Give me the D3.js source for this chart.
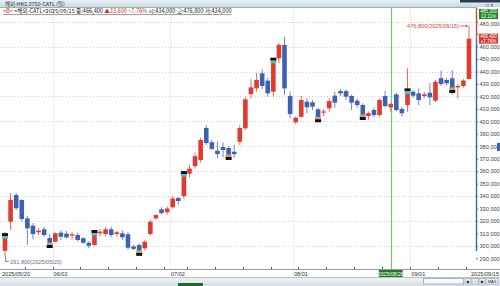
<!DOCTYPE html>
<html>
<head>
<meta charset="utf-8">
<script src="https://cdn.jsdelivr.net/npm/d3@7"></script>
<style>
  body { margin: 0; background: #fff; }
  svg { display: block; }
</style>
</head>
<body>
<div id="chart"></div>
<script>
// Trading days shown (HK, 2025)
const dates = [
  "2025/05/20","2025/05/21","2025/05/22","2025/05/23","2025/05/26","2025/05/27","2025/05/28","2025/05/29","2025/05/30",
  "2025/06/02","2025/06/03","2025/06/04","2025/06/05","2025/06/06","2025/06/09","2025/06/10","2025/06/11","2025/06/12","2025/06/13",
  "2025/06/16","2025/06/17","2025/06/18","2025/06/19","2025/06/20","2025/06/23","2025/06/24","2025/06/25","2025/06/26","2025/06/27","2025/06/30",
  "2025/07/02","2025/07/03","2025/07/04","2025/07/07","2025/07/08","2025/07/09","2025/07/10","2025/07/11","2025/07/14","2025/07/15",
  "2025/07/16","2025/07/17","2025/07/18","2025/07/21","2025/07/22","2025/07/23","2025/07/24","2025/07/25","2025/07/28","2025/07/29","2025/07/30","2025/07/31",
  "2025/08/01","2025/08/04","2025/08/05","2025/08/06","2025/08/07","2025/08/08","2025/08/11","2025/08/12","2025/08/13","2025/08/14","2025/08/15",
  "2025/08/18","2025/08/19","2025/08/20","2025/08/21","2025/08/22","2025/08/25","2025/08/26","2025/08/27","2025/08/28","2025/08/29",
  "2025/09/01","2025/09/02","2025/09/03","2025/09/04","2025/09/05","2025/09/08","2025/09/09","2025/09/10","2025/09/11","2025/09/12","2025/09/15"
];

const opens = [
  296000,319400,340800,336800,322100,316200,310900,313300,306300,
  303300,310600,309800,308200,308700,306100,302500,300700,310100,309500,
  313300,309500,310100,309300,299500,300700,298000,309500,322100,329300,327000,
  331000,338500,340000,358000,364000,369000,394700,383200,376400,379400,
  378600,375600,383600,394400,421900,426500,438600,432700,423800,450600,461400,420400,
  399200,403700,415800,415300,409700,407000,410500,420600,424300,424300,420400,
  416600,413100,404300,409100,405100,420400,411300,421700,410000,413100,
  423800,422500,420400,423000,416600,434600,433200,434600,427300,428400,434000
];
const highs = [
  311400,342400,342700,337400,324000,318400,314300,315100,309500,
  310900,312700,312000,311000,310500,307000,303800,311100,313500,315000,
  315400,312000,312500,311000,301000,302000,304500,321000,325500,331000,331500,
  340000,339000,358000,365000,375000,387000,397000,385000,383700,383000,
  380000,381000,397100,419800,433800,439100,441800,434800,449000,463000,468000,424000,
  404000,420400,418500,417200,411000,410000,418500,423800,426000,425500,421500,
  418000,414500,408000,411000,418500,424400,415000,423000,411500,442600,
  425000,426500,423800,430600,433200,440700,435000,441200,430000,434000,476800
];
const lows = [
  291800,312700,328800,319400,300700,305300,308700,307100,300700,
  302500,304700,306000,305000,303500,301500,298000,300000,307500,307600,
  307000,307600,304700,297000,296500,295100,296500,308000,321000,325000,325000,
  330000,333000,338000,355000,362000,367000,381000,377000,370300,371000,
  372000,370800,381000,393000,418500,423800,426000,419800,419800,446600,421200,402400,
  397500,402700,406500,409100,400000,404300,407700,411000,420400,417200,409100,
  411000,403000,401100,403500,404000,411000,407700,408000,403700,407700,
  419000,413100,418500,413100,415500,428500,429000,421200,418500,427000,434000
];
const closes = [
  306200,336800,330200,321600,314100,309500,312200,308700,302300,
  310100,307300,306800,309300,304700,302500,300100,308700,311400,313300,
  308700,310900,306900,298500,297600,296000,303300,319400,324700,326300,330000,
  338000,336000,356000,362000,372000,385000,382600,377900,373700,377000,
  373000,373700,394600,417700,427300,433200,428400,422500,447100,461400,426500,405900,
  402900,417200,411300,411800,403300,408000,416300,415000,422500,419800,415000,
  413100,405100,406500,405100,417200,412300,413900,409100,406500,422500,
  420600,417200,421700,419300,431800,430000,430600,426800,428400,432800,466400
];

// candles carrying the signal box (every 8th bar)
const markIdx = [0, 8, 16, 24, 32, 40, 48, 56, 64, 72, 80];

const yTicks = [290000,300000,310000,320000,330000,340000,350000,360000,370000,380000,
                390000,400000,410000,420000,430000,440000,450000,460000,470000,480000];
const gridTicks = [300000,320000,340000,360000,380000,400000,420000,440000,460000,480000];
const monthStarts = ["2025/06/02","2025/07/02","2025/08/01","2025/09/01"];
const monthLabels = ["06/02","07/02","08/01","09/01"];
const weekStarts = ["2025/05/26","2025/06/02","2025/06/09","2025/06/16","2025/06/23","2025/06/30",
  "2025/07/07","2025/07/14","2025/07/21","2025/07/28","2025/08/04","2025/08/11","2025/08/18",
  "2025/08/25","2025/09/01","2025/09/08","2025/09/15"];
const crossDate = "2025/08/26";

const titleText = "해외-HKS 3750-CATL (일)";
const infoParts = [
  { t: "<B> ", c: "#d0342c" },
  { t: "<해외-CATL>2025/09/15 종:466,400 ", c: "#222" },
  { t: "▲33,600 +7.76% ", c: "#d0342c" },
  { t: "시:434,000 고:476,800 저:434,000", c: "#222" }
];
const lastClose = 466400, lastPct = "+7.76%";
const crossPrice = 485200, crossPct = "12.11%";
const hiNote = "476,800(2025/09/15)", loNote = "291,800(2025/05/20)";

const UP = "#e23b2e", DOWN = "#3d62b2";
const plotRight = 476, plotTop = 7.5, axisY = 269;

const svg = d3.select("#chart").append("svg")
    .attr("width", 500).attr("height", 286)
    .style("font-family", "'Liberation Sans Narrow','Liberation Sans','Noto Sans CJK KR',sans-serif");

const defs = svg.append("defs");
const tg = defs.append("linearGradient").attr("id", "tb").attr("x1", 0).attr("x2", 0).attr("y1", 0).attr("y2", 1);
tg.append("stop").attr("offset", 0).attr("stop-color", "#eaf1f8");
tg.append("stop").attr("offset", 1).attr("stop-color", "#c8d7e8");
const sg = defs.append("linearGradient").attr("id", "sb").attr("x1", 0).attr("x2", 0).attr("y1", 0).attr("y2", 1);
sg.append("stop").attr("offset", 0).attr("stop-color", "#f2f4f6");
sg.append("stop").attr("offset", 1).attr("stop-color", "#d9dee4");

// Scales
const x = d3.scalePoint().domain(dates).range([5, 469]);
const step = x.step();
const bw = 4.6;
const y = d3.scaleLinear().domain([290000, 480000]).range([258.3, 21.75]);

// Gridlines
const grid = svg.append("g");
grid.selectAll(".hg").data(gridTicks).enter().append("line")
    .attr("x1", 0).attr("x2", plotRight)
    .attr("y1", d => Math.round(y(d)) + 0.5).attr("y2", d => Math.round(y(d)) + 0.5)
    .attr("stroke", "#cfcfcf").attr("stroke-dasharray", "1,2");
grid.selectAll(".vg").data(monthStarts).enter().append("line")
    .attr("x1", d => Math.round(x(d) - step / 2) + 0.5).attr("x2", d => Math.round(x(d) - step / 2) + 0.5)
    .attr("y1", plotTop).attr("y2", axisY)
    .attr("stroke", "#cfcfcf").attr("stroke-dasharray", "1,2");

// Top border and crosshair
svg.append("line").attr("x1", 0).attr("x2", plotRight).attr("y1", plotTop).attr("y2", plotTop)
    .attr("stroke", "#8fc28c");
svg.append("line").attr("x1", Math.round(x(crossDate)) + 0.5).attr("x2", Math.round(x(crossDate)) + 0.5)
    .attr("y1", plotTop).attr("y2", axisY).attr("stroke", "#7dbf7b").attr("stroke-width", 1.2);

// Candles
const candles = dates.map((d, i) => ({ d, i, o: opens[i], h: highs[i], l: lows[i], c: closes[i] }));
const cg = svg.append("g").selectAll("g").data(candles).enter().append("g");
cg.append("line")
    .attr("x1", d => x(d.d)).attr("x2", d => x(d.d))
    .attr("y1", d => y(d.h)).attr("y2", d => y(d.l))
    .attr("stroke", d => d.c >= d.o ? UP : DOWN).attr("stroke-width", 1).attr("opacity", 0.75);
cg.append("rect")
    .attr("x", d => x(d.d) - bw / 2).attr("width", bw)
    .attr("y", d => y(Math.max(d.o, d.c)))
    .attr("height", d => Math.max(1, Math.abs(y(d.o) - y(d.c))))
    .attr("fill", d => d.c >= d.o ? UP : DOWN);

// Signal boxes
const mk = svg.append("g").selectAll("g").data(markIdx.map(i => candles[i])).enter().append("g");
mk.each(function (d) {
  const g = d3.select(this), up = d.c >= d.o, cx = x(d.d);
  if (up) {
    const top = y(d.c);
    g.append("rect").attr("x", cx - 3).attr("width", 6).attr("y", top - 5).attr("height", 3).attr("fill", "#111");
    g.append("rect").attr("x", cx - 3).attr("width", 6).attr("y", top - 2).attr("height", 2.5).attr("fill", "#3fc6cf");
  } else {
    const bot = y(d.c);
    g.append("rect").attr("x", cx - 3).attr("width", 6).attr("y", bot - 0.5).attr("height", 2.5).attr("fill", "#c9a46c");
    g.append("rect").attr("x", cx - 3).attr("width", 6).attr("y", bot + 2).attr("height", 3).attr("fill", "#111");
  }
});

// High / low notes
const last = candles[candles.length - 1], first = candles[0];
svg.append("text").attr("x", x(last.d) - 10).attr("y", 28).attr("text-anchor", "end")
    .attr("fill", "#d0463c").attr("font-size", 5.6).text(hiNote);
svg.append("path")
    .attr("d", `M${x(last.d) - 9},${26} H${x(last.d) - 1.5}`)
    .attr("stroke", "#d0463c").attr("stroke-width", 0.8).attr("fill", "none");
svg.append("path")
    .attr("d", `M${x(last.d) - 1},26 l-2.2,-1.3 v2.6 z`).attr("fill", "#d0463c");
svg.append("path")
    .attr("d", `M${x(first.d) + 0.5},${y(first.l)} V261.5 H${x(first.d) + 4}`)
    .attr("stroke", "#5b6f9a").attr("stroke-width", 0.8).attr("fill", "none");
svg.append("text").attr("x", x(first.d) + 5).attr("y", 263.5)
    .attr("fill", "#5b6f9a").attr("font-size", 5.6).text(loNote);

// Price tags sit on the axis and hide what is behind them
const tagBoxes = [
  { yc: 14, fill: "#1f8a24", l1: d3.format(",")(crossPrice), l2: crossPct },
  { yc: y(lastClose), fill: "#d8392d", l1: d3.format(",")(lastClose), l2: lastPct }
];

// Right price axis
const ya = svg.append("g").attr("transform", `translate(${plotRight},0)`)
    .call(d3.axisRight(y).tickValues(yTicks).tickFormat(d3.format(",")).tickSize(2).tickPadding(1.5));
ya.select(".domain").remove();
ya.selectAll(".tick line").attr("stroke", "#666");
ya.selectAll(".tick text").attr("fill", "#444").attr("font-size", 5.6)
    .style("font-family", "'Liberation Sans Narrow','Liberation Sans',sans-serif");
// labels covered by a tag are not shown
ya.selectAll(".tick").filter(d => tagBoxes.some(t => Math.abs(y(d) - t.yc) < 6))
    .select("text").remove();
ya.selectAll(".tick").filter(d => d === 480000).select("text").attr("dy", "0.62em");

svg.append("line").attr("x1", plotRight + 0.5).attr("x2", plotRight + 0.5)
    .attr("y1", plotTop).attr("y2", y(lastClose)).attr("stroke", "#d8453a").attr("stroke-width", 1.4);
svg.append("line").attr("x1", plotRight + 0.5).attr("x2", plotRight + 0.5)
    .attr("y1", y(lastClose)).attr("y2", y(d3.min(lows)) - 5).attr("stroke", "#3d62b2").attr("stroke-width", 1.4);
svg.append("rect").attr("x", 497).attr("y", 143).attr("width", 3).attr("height", 8).attr("fill", "#3d62b2");

tagBoxes.forEach(t => {
  const g = svg.append("g");
  g.append("rect").attr("x", 479).attr("y", t.yc - 5).attr("width", 19).attr("height", 10).attr("fill", t.fill);
  g.append("text").attr("x", 488.5).attr("y", t.yc - 0.8).attr("text-anchor", "middle")
      .attr("fill", "#fff").attr("font-size", 4.6).text(t.l1);
  g.append("text").attr("x", 488.5).attr("y", t.yc + 4.1).attr("text-anchor", "middle")
      .attr("fill", "#fff").attr("font-size", 4.6).text(t.l2);
});

// Bottom date axis
svg.append("line").attr("x1", 0).attr("x2", 500).attr("y1", axisY + 0.5).attr("y2", axisY + 0.5).attr("stroke", "#9a9a9a");
svg.append("g").selectAll("line").data(weekStarts).enter().append("line")
    .attr("x1", d => Math.round(x(d) - step / 2) + 0.5).attr("x2", d => Math.round(x(d) - step / 2) + 0.5)
    .attr("y1", axisY - 2).attr("y2", axisY).attr("stroke", "#555");
const xl = svg.append("g").attr("font-size", 5.6).attr("fill", "#333");
xl.append("text").attr("x", 2).attr("y", 275.5).text(first.d);
xl.selectAll(".ml").data(monthStarts).enter().append("text")
    .attr("x", d => x(d) - step / 2 + 1).attr("y", 275.5).text((d, i) => monthLabels[i]);
xl.append("text").attr("x", 499).attr("y", 275.5).attr("text-anchor", "end").text(last.d);
svg.append("rect").attr("x", x(crossDate) - 12).attr("y", 270).attr("width", 24).attr("height", 7.5).attr("fill", "#1f7a22");
svg.append("text").attr("x", x(crossDate)).attr("y", 275.6).attr("text-anchor", "middle")
    .attr("fill", "#fff").attr("font-size", 5.2).text(crossDate);

// Scroll bar strip
svg.append("rect").attr("x", 0).attr("y", 277.5).attr("width", 500).attr("height", 8.5).attr("fill", "url(#sb)");
svg.append("line").attr("x1", 0).attr("x2", 500).attr("y1", 277.5).attr("y2", 277.5).attr("stroke", "#b8c0c8");
svg.append("rect").attr("x", 178).attr("y", 283).attr("width", 25).attr("height", 3).attr("fill", "#1f6b2a");
svg.append("rect").attr("x", 423.5).attr("y", 278.5).attr("width", 40).attr("height", 5.5)
    .attr("fill", "#f7f9fb").attr("stroke", "#8a9ab0").attr("stroke-width", 0.7);
[465, 472, 479].forEach((bx, k) => {
  svg.append("rect").attr("x", bx).attr("y", 278.5).attr("width", 6).attr("height", 5.5)
      .attr("fill", "#eef1f4").attr("stroke", "#8a9ab0").attr("stroke-width", 0.6);
  svg.append("text").attr("x", bx + 3).attr("y", 283).attr("text-anchor", "middle")
      .attr("font-size", 4.5).attr("fill", "#222").text(["■", "−", "■"][k]);
});
svg.append("rect").attr("x", 486).attr("y", 278.5).attr("width", 12).attr("height", 5.5)
    .attr("fill", "#eef1f4").attr("stroke", "#8a9ab0").attr("stroke-width", 0.6);
svg.append("text").attr("x", 492).attr("y", 283).attr("text-anchor", "middle")
    .attr("font-size", 4).attr("fill", "#222").text("MAX");

// Title bar
svg.append("rect").attr("x", 0).attr("y", 0).attr("width", 500).attr("height", 7).attr("fill", "url(#tb)");
svg.append("rect").attr("x", 460).attr("y", 0).attr("width", 40).attr("height", 2.5).attr("fill", "#2c3b50");
svg.append("text").attr("x", 5).attr("y", 5.6).attr("font-size", 5.4).attr("fill", "#333")
    .style("font-family", "'Noto Sans CJK KR',sans-serif").text(titleText);
svg.append("text").attr("x", 486).attr("y", 6.6).attr("font-size", 5).attr("fill", "#333").text("□ ×");

// Info line
const info = svg.append("text").attr("x", 3).attr("y", 13.3).attr("font-size", 5.6)
    .style("font-family", "'Noto Sans CJK KR',sans-serif");
info.selectAll("tspan").data(infoParts).enter().append("tspan")
    .attr("fill", d => d.c).text(d => d.t);
const iw = info.node().getComputedTextLength();
svg.append("line").attr("x1", 3).attr("x2", 3 + iw).attr("y1", 14.6).attr("y2", 14.6)
    .attr("stroke", "#333").attr("stroke-width", 0.5);
</script>
</body>
</html>
